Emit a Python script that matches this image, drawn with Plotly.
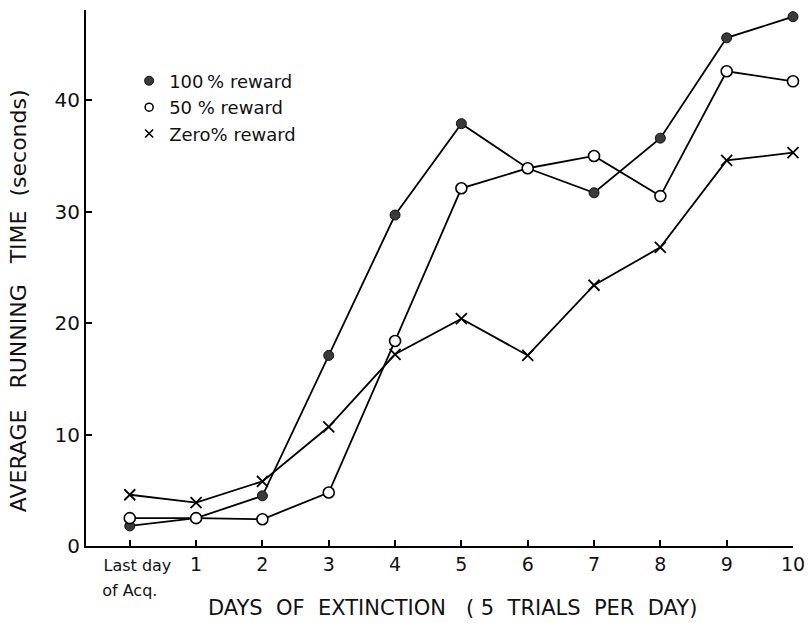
import plotly.graph_objects as go

NB = "\u00a0"
categories = ["<span style='font-size:16px'>" + NB*3 + "Last day<br>of Acq.</span>", "1", "2", "3", "4", "5", "6", "7", "8", "9", "10"]
reward_100 = [1.8, 2.5, 4.5, 17.1, 29.7, 37.9, 33.9, 31.7, 36.6, 45.6, 47.5]
reward_50 = [2.5, 2.5, 2.4, 4.8, 18.4, 32.1, 33.9, 35.0, 31.4, 42.6, 41.7]
reward_0 = [4.6, 3.9, 5.8, 10.7, 17.2, 20.4, 17.1, 23.4, 26.8, 34.6, 35.3]
series_names = ["100\u2009% reward", "50 % reward", "Zero% reward"]
y_ticks = [0, 10, 20, 30, 40]
x_title = "DAYS" + NB*2 + "OF" + NB*2 + "EXTINCTION" + NB*3 + "(" + NB + "5" + NB*2 + "TRIALS" + NB*2 + "PER" + NB*2 + "DAY)"
y_title = "AVERAGE" + NB*3 + "RUNNING" + NB*3 + "TIME" + NB*2 + "(seconds)"

x = list(range(len(categories)))
FONT = "DejaVu Sans"

styles = [
    dict(symbol="circle", size=10, color="#3a3a3a", line=dict(color="#111111", width=1)),
    dict(symbol="circle", size=11, color="white", line=dict(color="black", width=1.6)),
    dict(symbol="x-thin", size=11, color="black", line=dict(color="black", width=1.8)),
]
legend_styles = [
    dict(symbol="circle", size=9, color="#3a3a3a", line=dict(color="#111111", width=1)),
    dict(symbol="circle", size=8, color="white", line=dict(color="black", width=1.5)),
    dict(symbol="x-thin", size=8, color="black", line=dict(color="black", width=1.6)),
]

fig = go.Figure()
for vals, st in zip([reward_100, reward_50, reward_0], styles):
    fig.add_trace(go.Scatter(x=x, y=vals, mode="lines+markers",
                             line=dict(color="black", width=1.8),
                             marker=st, showlegend=False, cliponaxis=False))
for name, st in zip(series_names, legend_styles):
    fig.add_trace(go.Scatter(x=[None], y=[None], mode="markers", name=name,
                             marker=st, showlegend=True))

fig.update_layout(
    width=808, height=623,
    margin=dict(l=86, r=15, t=10, b=77),
    paper_bgcolor="white", plot_bgcolor="white",
    font=dict(family=FONT, color="#111111"),
    legend=dict(x=0.061, y=0.902, xanchor="left", yanchor="top",
                font=dict(size=18, family=FONT, color="#111111"),
                bgcolor="rgba(0,0,0,0)", itemwidth=30, tracegroupgap=0),
    xaxis=dict(range=[-0.66, 10], tickmode="array", tickvals=x, ticktext=categories,
               showline=True, linecolor="black", linewidth=2, ticks="inside",
               ticklen=6, tickwidth=1.5, tickcolor="black", showgrid=False,
               zeroline=False, tickfont=dict(size=19, family=FONT), automargin=False),
    yaxis=dict(range=[0, 48.1], tickmode="array", tickvals=y_ticks,
               showline=True, linecolor="black", linewidth=2, ticks="inside",
               ticklen=6, tickwidth=1.5, tickcolor="black", showgrid=False,
               zeroline=False, tickfont=dict(size=20, family=FONT), automargin=False),
    annotations=[
        dict(text=y_title, textangle=-90, xref="paper", yref="paper",
             x=-0.096, y=0.457, xanchor="center", yanchor="middle",
             showarrow=False, font=dict(size=22, family=FONT)),
        dict(text=x_title, xref="paper", yref="paper",
             x=0.518, y=-0.116, xanchor="center", yanchor="middle",
             showarrow=False, font=dict(size=21, family=FONT)),
    ],
)

fig.write_html("out.html")
